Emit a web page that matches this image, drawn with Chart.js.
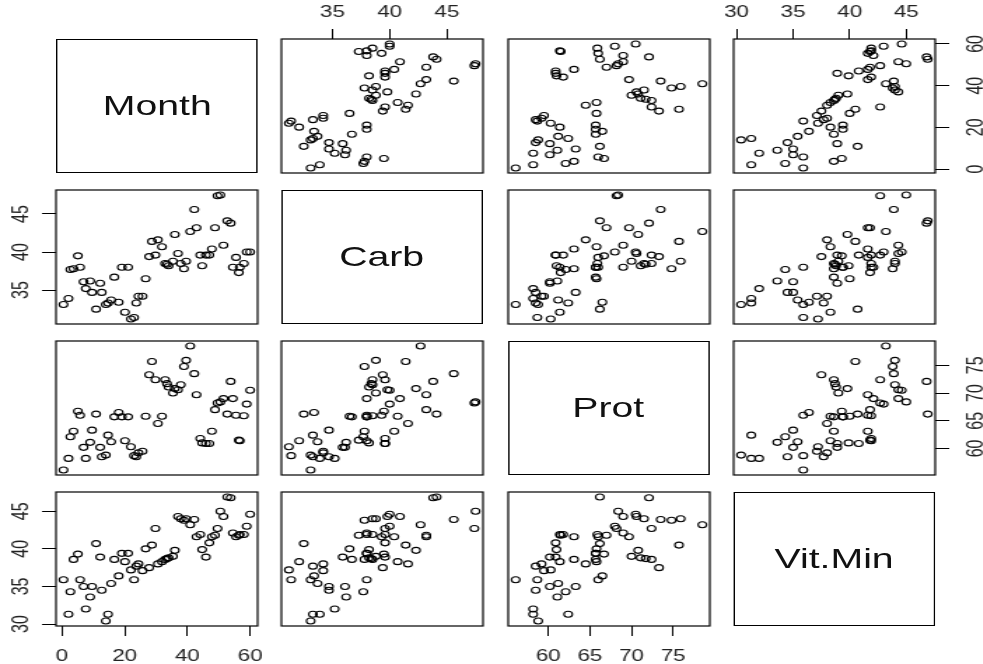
<!DOCTYPE html>
<html>
<head>
<meta charset="utf-8">
<script src="https://cdn.jsdelivr.net/npm/chart.js@4"></script>
<style>
  body { margin: 0; background: #fff; overflow: hidden; }
  /* the reference is a stretched R pairs() plot, so draw narrow and stretch */
  #grid { position: relative; width: 702px; height: 664px; transform: scaleX(1.4); transform-origin: 0 0; }
  #grid canvas { position: absolute; }
  .diag {
    position: absolute; box-sizing: border-box; border: 1px solid #000;
    display: flex; align-items: center; justify-content: center;
    font: 28px "Liberation Sans", Arial, sans-serif; color: #111;
  }
</style>
</head>
<body>
<div id="grid"></div>
<script>
const varNames = ["Month", "Carb", "Prot", "Vit.Min"];

const month = [0.5, 2.1, 2.7, 3.7, 5.1, 5.8, 6.9, 7.6, 9.0, 9.6, 10.9, 12.2, 12.7, 14.0, 14.7, 15.7, 16.7,
    18.1, 19.1, 20.1, 21.1, 22.0, 23.0, 23.7, 24.4, 25.7, 26.7,
    27.8, 28.7, 29.8, 30.6, 31.9, 32.9, 33.5, 34.0, 35.4, 36.0, 37.0, 37.9, 38.9, 39.6, 40.9,
    42.2, 42.9, 44.1, 44.7, 45.9, 47.0, 47.8, 48.8, 49.6, 50.5, 51.5, 52.7, 53.8, 54.5, 55.5, 56.4, 56.7, 58.0, 58.9, 60.0];
const carb = [33.1, 33.9, 37.7, 37.8, 39.5, 38.0, 36.1, 35.2, 36.2, 34.7, 32.5, 35.9, 34.7, 33.1, 33.3, 33.7, 36.7,
    33.4, 38.0, 32.1, 38.0, 31.2, 31.4, 33.3, 34.2, 34.2, 36.5,
    39.4, 41.4, 39.6, 41.6, 40.7, 38.5, 38.4, 38.2, 38.8, 42.3, 39.8, 38.5, 37.8, 38.8, 42.7,
    45.6, 43.2, 39.6, 38.2, 39.6, 39.6, 40.4, 43.2, 47.4, 47.5, 40.9, 44.1, 43.8, 38.0, 39.3, 37.3, 38.0, 38.5, 40.0, 40.0];
const prot = [56.1, 58.2, 62.1, 63.1, 66.7, 66.0, 60.2, 58.2, 61.1, 63.3, 66.2, 60.2, 58.5, 58.8, 62.4, 61.2, 65.7,
    66.5, 65.7, 61.4, 65.7, 60.3, 58.7, 58.5, 59.2, 59.5, 65.8,
    73.3, 75.7, 72.4, 64.5, 65.8, 72.4, 71.7, 71.1, 70.0, 70.8, 70.6, 71.5, 74.8, 75.9, 78.5,
    73.5, 69.7, 61.8, 61.0, 60.9, 60.9, 63.1, 67.0, 68.2, 68.4, 69.0, 66.2, 72.1, 69.0, 66.0, 61.5, 61.4, 65.9, 68.0, 70.5];
const vitMin = [35.9, 31.3, 34.3, 38.6, 39.3, 35.9, 35.0, 32.0, 33.6, 35.0, 40.7, 38.9, 34.5, 30.4, 31.3, 35.4, 38.6,
    36.4, 39.4, 38.3, 39.4, 37.2, 35.9, 37.7, 38.0, 37.1, 40.0,
    37.5, 40.5, 42.7, 38.0, 38.3, 38.6, 38.7, 38.8, 39.0, 39.8, 44.3, 44.0, 43.8, 44.0, 43.2,
    43.9, 41.6, 41.9, 39.9, 38.9, 40.8, 41.6, 41.8, 42.7, 45.0, 44.3, 46.9, 46.8, 42.1, 41.6, 41.8, 41.9, 41.9, 43.0, 44.6];

const monthTicks = [0, 20, 40, 60];
const carbTicks = [35, 40, 45];
const protTicks = [60, 65, 70, 75];
const vitMinTicks = [30, 35, 40, 45];

const columns = [month, carb, prot, vitMin];
const tickSets = [monthTicks, carbTicks, protTicks, vitMinTicks];

// panel boxes (unstretched px)
const boxLeft = [40.4, 200.6, 362.5, 523.8];
const boxTop = [39, 190, 341, 492];
const boxW = 144, boxH = 134;
const M = 40; // room around each box for an axis

const tickFont = { family: '"Liberation Sans", Arial, sans-serif', size: 16 };

// like R: data range plus 4% each side
function padRange(values) {
    const lo = Math.min(...values), hi = Math.max(...values);
    const p = (hi - lo) * 0.04;
    return [lo - p, hi + p];
}

const boxPlugin = {
    id: "panelBox",
    afterDraw(chart) {
        const { ctx, chartArea: a } = chart;
        ctx.save();
        ctx.strokeStyle = "#000";
        ctx.lineWidth = 1.2;
        ctx.strokeRect(a.left, a.top, a.right - a.left, a.bottom - a.top);
        ctx.restore();
    }
};

function scaleOptions(v, axis, position, shown, padding) {
    const range = padRange(columns[v]);
    return {
        type: "linear",
        position: position,
        min: range[0],
        max: range[1],
        display: shown,
        afterBuildTicks: s => { s.ticks = tickSets[v].map(t => ({ value: t })); },
        afterFit: s => {
            if (!shown) return;
            if (axis === "x") s.height = M; else s.width = M;
        },
        grid: { drawOnChartArea: false, drawTicks: true, tickLength: 10, color: "#000", lineWidth: 1 },
        border: { display: false },
        ticks: {
            color: "#222",
            font: tickFont,
            padding: padding,
            autoSkip: false,
            minRotation: axis === "y" ? 90 : 0,
            maxRotation: axis === "y" ? 90 : 0,
            crossAlign: axis === "y" ? "center" : "near"
        }
    };
}

const grid = document.getElementById("grid");

for (let i = 0; i < 4; i++) {
    for (let j = 0; j < 4; j++) {
        if (i === j) {
            const d = document.createElement("div");
            d.className = "diag";
            d.style.left = boxLeft[j] + "px";
            d.style.top = boxTop[i] + "px";
            d.style.width = boxW + "px";
            d.style.height = boxH + "px";
            d.textContent = varNames[i];
            grid.appendChild(d);
            continue;
        }

        const canvas = document.createElement("canvas");
        canvas.width = boxW + 2 * M;
        canvas.height = boxH + 2 * M;
        canvas.style.left = (boxLeft[j] - M) + "px";
        canvas.style.top = (boxTop[i] - M) + "px";
        grid.appendChild(canvas);

        const showBottom = i === 3 && j % 2 === 0;
        const showTop = i === 0 && j % 2 === 1;
        const showLeft = j === 0 && i % 2 === 1;
        const showRight = j === 3 && i % 2 === 0;

        const xs = columns[j], ys = columns[i];
        const points = xs.map((x, k) => ({ x: x, y: ys[k] }));

        new Chart(canvas, {
            type: "scatter",
            data: {
                datasets: [{
                    data: points,
                    pointStyle: "circle",
                    pointRadius: 3,
                    pointBorderWidth: 1.1,
                    pointBorderColor: "#000",
                    pointBackgroundColor: "rgba(0,0,0,0)"
                }]
            },
            options: {
                responsive: false,
                animation: false,
                events: [],
                layout: {
                    padding: {
                        left: showLeft ? 0 : M,
                        right: showRight ? 0 : M,
                        top: showTop ? 0 : M,
                        bottom: showBottom ? 0 : M
                    }
                },
                plugins: { legend: { display: false }, tooltip: { enabled: false } },
                scales: {
                    x: scaleOptions(j, "x", showTop ? "top" : "bottom", showTop || showBottom, showTop ? 6.5 : 10.5),
                    y: scaleOptions(i, "y", showRight ? "right" : "left", showLeft || showRight, showRight ? 10.5 : 5.5)
                }
            },
            plugins: [boxPlugin]
        });
    }
}
</script>
</body>
</html>
